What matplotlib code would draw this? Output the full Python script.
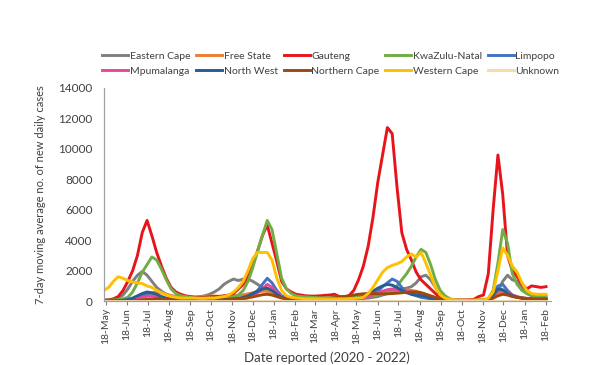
import matplotlib
matplotlib.use("Agg")
import matplotlib.pyplot as plt
import matplotlib.dates as mdates
import pandas as pd

plt.rcParams["font.family"] = ["Lato", "DejaVu Sans"]

dates = pd.date_range("2020-05-15", periods=93, freq="7D")

eastern_cape = [50, 80, 120, 200, 400, 800, 1300, 1700, 1950, 1700, 1300, 900, 650, 450, 350,
                300, 280, 250, 250, 250, 280, 350, 450, 600, 800, 1100, 1300, 1450, 1350, 1450,
                1450, 1300, 1100, 900, 750, 550, 400, 300, 250, 200, 200, 180, 150, 150, 150,
                150, 150, 150, 150, 150, 150, 150, 150, 160, 180, 200, 250, 300, 400, 500,
                600, 700, 800, 850, 950, 1200, 1600, 1700, 1400, 900, 400, 200, 100, 80, 60,
                60, 60, 60, 80, 60, 80, 200, 600, 1300, 1700, 1400, 1300, 900, 500, 350,
                300, 300, 300]
free_state = [10, 15, 20, 30, 50, 80, 150, 250, 350, 450, 550, 600, 550, 450, 350,
              300, 280, 250, 250, 270, 300, 320, 330, 330, 320, 320, 330, 350, 380, 420,
              480, 550, 620, 650, 650, 550, 400, 280, 200, 150, 130, 120, 120, 120, 130,
              140, 150, 170, 200, 230, 260, 280, 300, 330, 360, 400, 450, 500, 550, 600,
              650, 700, 750, 750, 700, 650, 550, 450, 300, 200, 100, 60, 40, 30, 30,
              30, 30, 30, 40, 60, 120, 300, 500, 550, 450, 350, 250, 200, 170, 150,
              140, 130, 130]
gauteng = [50, 80, 150, 300, 700, 1300, 2000, 3000, 4500, 5300, 4300, 3200, 2300, 1500, 900,
           600, 450, 350, 300, 250, 250, 250, 280, 300, 300, 350, 400, 500, 800, 1100,
           1600, 2400, 3300, 4300, 5000, 3800, 2600, 1300, 800, 600, 450, 400, 350, 330, 330,
           350, 380, 400, 450, 300, 280, 350, 700, 1400, 2300, 3600, 5500, 7800, 9600, 11400,
           11000, 7500, 4500, 3400, 2700, 1900, 1400, 1100, 800, 500, 250, 150, 100, 80, 80,
           80, 90, 120, 300, 400, 1800, 6000, 9600, 7000, 3000, 2000, 1600, 1100, 800, 1000,
           950, 900, 950]
kwazulu_natal = [50, 60, 80, 100, 150, 250, 600, 1200, 1900, 2400, 2900, 2700, 2100, 1400, 800,
                 500, 350, 300, 250, 200, 200, 200, 200, 200, 200, 200, 200, 300, 400, 700,
                 1300, 2200, 3300, 4300, 5300, 4700, 3100, 1500, 800, 500, 350, 300, 280, 250, 230,
                 220, 220, 230, 250, 250, 250, 250, 250, 250, 270, 300, 350, 400, 450, 550,
                 700, 1000, 1400, 1800, 2300, 2900, 3400, 3200, 2400, 1400, 700, 350, 150, 80, 60,
                 50, 50, 60, 80, 80, 150, 700, 2500, 4700, 3800, 1800, 1100, 700, 500, 400,
                 350, 300, 300]
limpopo = [10, 15, 20, 30, 50, 80, 150, 250, 400, 500, 450, 350, 250, 150, 100,
           80, 70, 60, 50, 50, 50, 50, 50, 60, 70, 80, 100, 120, 150, 200,
           300, 450, 700, 1100, 1500, 1200, 700, 350, 200, 120, 100, 80, 70, 60, 50,
           50, 50, 50, 50, 60, 70, 80, 100, 150, 200, 300, 450, 650, 950, 1200,
           1450, 1300, 900, 650, 450, 350, 250, 200, 150, 100, 60, 40, 30, 30, 30,
           30, 30, 30, 40, 60, 150, 500, 1000, 1100, 700, 400, 250, 200, 150, 120,
           100, 100, 100]
mpumalanga = [5, 10, 15, 20, 30, 50, 80, 150, 250, 320, 350, 300, 220, 150, 100,
              80, 60, 50, 50, 40, 40, 40, 40, 40, 50, 60, 70, 90, 110, 150,
              220, 350, 550, 800, 1100, 900, 550, 300, 180, 120, 90, 70, 60, 50, 50,
              50, 50, 50, 60, 70, 80, 100, 120, 150, 200, 300, 400, 550, 650, 750,
              800, 750, 700, 650, 600, 550, 450, 350, 250, 150, 80, 50, 40, 30, 30,
              30, 30, 30, 40, 60, 120, 350, 650, 700, 550, 400, 300, 220, 180, 150,
              130, 120, 120]
north_west = [10, 15, 20, 30, 50, 100, 200, 350, 500, 600, 550, 450, 300, 200, 150,
              100, 80, 70, 60, 60, 60, 60, 60, 70, 80, 100, 120, 150, 180, 250,
              350, 500, 650, 800, 850, 700, 450, 250, 150, 100, 80, 70, 60, 60, 60,
              60, 60, 60, 70, 80, 100, 120, 150, 200, 300, 450, 650, 850, 1000, 1100,
              1050, 900, 700, 550, 450, 400, 350, 300, 200, 120, 60, 40, 30, 30, 30,
              30, 30, 30, 40, 50, 120, 400, 800, 750, 500, 350, 250, 200, 150, 120,
              100, 100, 100]
northern_cape = [5, 5, 10, 10, 15, 20, 30, 50, 80, 120, 150, 160, 150, 120, 100,
                 80, 70, 60, 50, 50, 50, 50, 50, 60, 70, 80, 100, 120, 150, 180,
                 220, 280, 350, 420, 450, 400, 300, 200, 150, 120, 100, 90, 90, 100, 110,
                 130, 150, 180, 220, 260, 300, 350, 400, 450, 480, 500, 500, 480, 470, 480,
                 500, 520, 550, 580, 600, 600, 550, 450, 350, 250, 150, 80, 50, 40, 30,
                 30, 30, 30, 40, 60, 100, 200, 350, 450, 400, 300, 250, 200, 180, 150,
                 150, 150, 150]
western_cape = [700, 900, 1300, 1600, 1500, 1350, 1250, 1200, 1150, 1000, 900, 700, 550, 400, 300,
                250, 200, 200, 200, 200, 180, 180, 200, 200, 250, 300, 400, 600, 900, 1300,
                2000, 2800, 3200, 3200, 3200, 2700, 1500, 700, 350, 250, 200, 180, 150, 150, 150,
                150, 150, 150, 150, 150, 150, 160, 170, 200, 250, 500, 900, 1400, 1900, 2200,
                2350, 2450, 2600, 2900, 3100, 2900, 3200, 2500, 1700, 900, 400, 200, 100, 80, 60,
                60, 60, 60, 80, 80, 200, 600, 2000, 3500, 3000, 2300, 1900, 1200, 700, 500,
                450, 450, 450]
unknown = [0] * 93

series = [
    ("Eastern Cape", eastern_cape, "#7f7f7f"),
    ("Free State", free_state, "#ED7D31"),
    ("Gauteng", gauteng, "#E8141C"),
    ("KwaZulu-Natal", kwazulu_natal, "#70AD47"),
    ("Limpopo", limpopo, "#4472C4"),
    ("Mpumalanga", mpumalanga, "#E8489B"),
    ("North West", north_west, "#255E91"),
    ("Northern Cape", northern_cape, "#9E480E"),
    ("Western Cape", western_cape, "#FFC000"),
    ("Unknown", unknown, "#F5DCA8"),
]

fig = plt.figure(figsize=(6.0, 3.65), dpi=100)
ax = fig.add_axes([0.173, 0.175, 0.745, 0.584])

handles = []
for name, vals, col in series:
    h, = ax.plot(dates, vals, color=col, lw=2.1, label=name, solid_joinstyle="round")
    handles.append(h)

ax.set_ylim(0, 14000)
ax.set_yticks(range(0, 14001, 2000))
ax.set_xlim(pd.Timestamp("2020-05-15"), pd.Timestamp("2022-02-25"))
ax.xaxis.set_major_locator(mdates.MonthLocator(bymonthday=18))
ax.xaxis.set_major_formatter(mdates.DateFormatter("%d-%b"))
for lab in ax.get_xticklabels():
    lab.set_rotation(90)
ax.tick_params(axis="x", labelsize=7.5, colors="#404040", length=3, width=0.8, color="#808080", pad=2)
ax.tick_params(axis="y", labelsize=8.5, colors="#404040", length=0, pad=8)
for s in ["top", "right"]:
    ax.spines[s].set_visible(False)
for s in ["left", "bottom"]:
    ax.spines[s].set_color("#a0a0a0")
    ax.spines[s].set_linewidth(0.9)

ax.set_ylabel("7-day moving average no. of new daily cases", fontsize=8, color="#404040", labelpad=9)
ax.set_xlabel("Date reported (2020 - 2022)", fontsize=9.5, color="#404040", labelpad=5)

# reorder so that the legend reads row by row (matplotlib fills columns first)
order = [0, 5, 1, 6, 2, 7, 3, 8, 4, 9]
leg_h = [handles[i] for i in order]
leg_l = [series[i][0] for i in order]
fig.legend(leg_h, leg_l, loc="center left", bbox_to_anchor=(0.162, 0.825), ncol=5, frameon=False,
           fontsize=7.5, handlelength=2.5, handletextpad=0.15, columnspacing=0.55,
           labelspacing=0.55, borderpad=0, labelcolor="#404040")

fig.savefig("out.png", dpi=100)
